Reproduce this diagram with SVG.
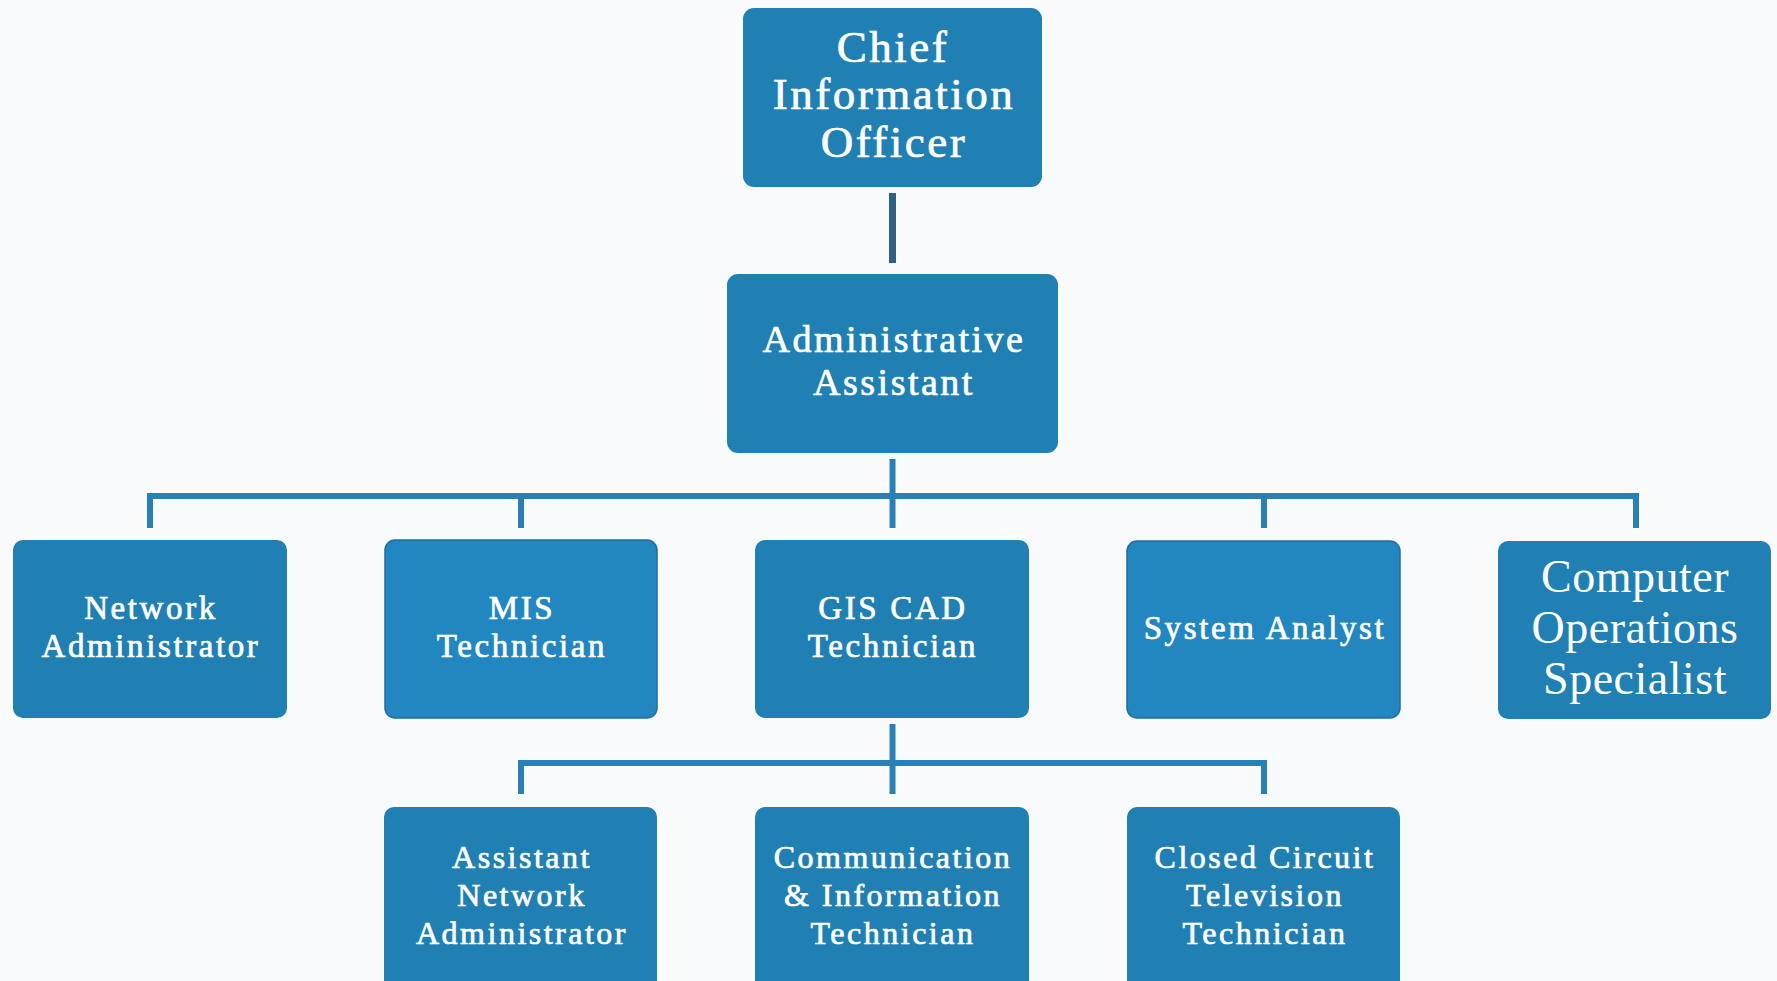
<svg xmlns="http://www.w3.org/2000/svg" width="1777" height="981" viewBox="0 0 1777 981">
  <style>
    .box { fill: #2080b4; }
    .box-alt { fill: #2287c1; stroke: #1d6f9e; stroke-width: 1.5; }
    .lbl { font-family: "Liberation Serif", "Times New Roman", serif; fill: #ffffff; stroke: #ffffff; stroke-width: 0.7; text-anchor: middle; }
    .l1 { font-size: 45px; letter-spacing: 2.5px; }
    .l2 { font-size: 38px; letter-spacing: 2.5px; }
    .l3 { font-size: 33px; letter-spacing: 2.6px; }
    .l4 { font-size: 32px; letter-spacing: 2.5px; }
    .lcos { font-size: 46px; stroke-width: 0; letter-spacing: 0.5px; }
    .wire { stroke: #2a80b4; stroke-width: 6; fill: none; stroke-linecap: butt; }
    .wire-top { stroke: #2f6181; stroke-width: 7; fill: none; }
  </style>

  <rect x="0" y="0" width="1777" height="981" fill="#f9fafb"/>

  <!-- connectors -->
  <g id="connectors">
    <line class="wire-top" x1="892.5" y1="193" x2="892.5" y2="263"/>
    <!-- administrative assistant to second tier -->
    <line class="wire" x1="892.5" y1="459" x2="892.5" y2="528"/>
    <line class="wire" x1="147" y1="496" x2="1639" y2="496"/>
    <line class="wire" x1="150" y1="493" x2="150" y2="528"/>
    <line class="wire" x1="521" y1="493" x2="521" y2="528"/>
    <line class="wire" x1="1264" y1="493" x2="1264" y2="528"/>
    <line class="wire" x1="1636" y1="493" x2="1636" y2="528"/>
    <!-- GIS CAD technician to third tier -->
    <line class="wire" x1="892.5" y1="724" x2="892.5" y2="794"/>
    <line class="wire" x1="518" y1="763" x2="1267" y2="763"/>
    <line class="wire" x1="521" y1="760" x2="521" y2="794"/>
    <line class="wire" x1="1264" y1="760" x2="1264" y2="794"/>
  </g>

  <g id="cio">
    <rect class="box" x="743" y="8" width="299" height="179" rx="11"/>
    <text class="lbl l1" x="893" y="62">Chief</text>
    <text class="lbl l1" x="894" y="109">Information</text>
    <text class="lbl l1" x="894" y="157">Officer</text>
  </g>

  <g id="admin-assistant">
    <rect class="box" x="727" y="274" width="331" height="179" rx="11"/>
    <text class="lbl l2" x="894" y="352">Administrative</text>
    <text class="lbl l2" x="894" y="395">Assistant</text>
  </g>

  <g id="network-admin">
    <rect class="box" x="13" y="540" width="274" height="178" rx="10"/>
    <text class="lbl l3" x="151" y="619">Network</text>
    <text class="lbl l3" x="151" y="657">Administrator</text>
  </g>

  <g id="mis-tech">
    <rect class="box-alt" x="385" y="540" width="272" height="178" rx="10"/>
    <text class="lbl l3" x="522" y="619">MIS</text>
    <text class="lbl l3" x="522" y="657">Technician</text>
  </g>

  <g id="gis-cad-tech">
    <rect class="box" x="755" y="540" width="274" height="178" rx="10"/>
    <text class="lbl l3" x="893" y="619">GIS CAD</text>
    <text class="lbl l3" x="893" y="657">Technician</text>
  </g>

  <g id="system-analyst">
    <rect class="box-alt" x="1127" y="541" width="273" height="177" rx="10"/>
    <text class="lbl l3" x="1265" y="639">System Analyst</text>
  </g>

  <g id="computer-ops">
    <rect class="box" x="1498" y="541" width="273" height="178" rx="10"/>
    <text class="lbl lcos" x="1635" y="592">Computer</text>
    <text class="lbl lcos" x="1635" y="643">Operations</text>
    <text class="lbl lcos" x="1635" y="694">Specialist</text>
  </g>

  <g id="asst-network-admin">
    <rect class="box" x="384" y="807" width="273" height="190" rx="10"/>
    <text class="lbl l4" x="522" y="868">Assistant</text>
    <text class="lbl l4" x="522" y="906">Network</text>
    <text class="lbl l4" x="522" y="944">Administrator</text>
  </g>

  <g id="comm-info-tech">
    <rect class="box" x="755" y="807" width="274" height="190" rx="10"/>
    <text class="lbl l4" x="893" y="868">Communication</text>
    <text class="lbl l4" x="893" y="906">&amp; Information</text>
    <text class="lbl l4" x="893" y="944">Technician</text>
  </g>

  <g id="cctv-tech">
    <rect class="box" x="1127" y="807" width="273" height="190" rx="10"/>
    <text class="lbl l4" x="1265" y="868">Closed Circuit</text>
    <text class="lbl l4" x="1265" y="906">Television</text>
    <text class="lbl l4" x="1265" y="944">Technician</text>
  </g>
</svg>
